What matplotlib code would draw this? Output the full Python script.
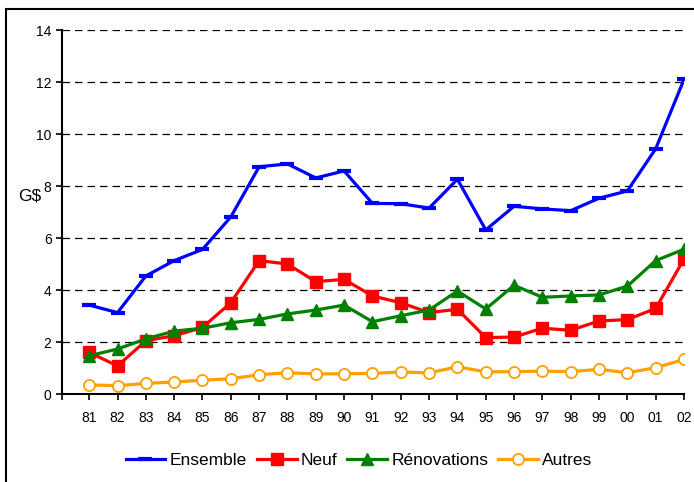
import matplotlib.pyplot as plt
from matplotlib.patches import Rectangle

plt.rcParams['font.family'] = ['Liberation Sans', 'DejaVu Sans']

years = ['81', '82', '83', '84', '85', '86', '87', '88', '89', '90', '91',
         '92', '93', '94', '95', '96', '97', '98', '99', '00', '01', '02']

ensemble = [3.42, 3.13, 4.54, 5.13, 5.56, 6.81, 8.74, 8.85, 8.31, 8.58, 7.33,
            7.32, 7.15, 8.26, 6.31, 7.22, 7.12, 7.05, 7.53, 7.81, 9.43, 12.1]
neuf = [1.6, 1.08, 2.05, 2.24, 2.56, 3.51, 5.13, 5.0, 4.32, 4.41, 3.77,
        3.51, 3.13, 3.26, 2.17, 2.19, 2.53, 2.45, 2.81, 2.86, 3.29, 5.19]
renovations = [1.47, 1.73, 2.12, 2.42, 2.53, 2.74, 2.87, 3.08, 3.23, 3.42, 2.78,
               3.01, 3.23, 3.96, 3.27, 4.18, 3.72, 3.77, 3.81, 4.15, 5.13, 5.57]
autres = [0.35, 0.32, 0.41, 0.46, 0.53, 0.59, 0.74, 0.82, 0.77, 0.78, 0.79,
          0.85, 0.81, 1.05, 0.85, 0.86, 0.88, 0.86, 0.95, 0.82, 1.01, 1.33]

x = list(range(len(years)))

fig = plt.figure(figsize=(6.94, 4.82), dpi=100)
ax = fig.add_axes([62/694, 1 - 394/482, 622/694, 364/482])

ax.plot(x, ensemble, color='#0000FF', lw=2.3, marker='_', ms=10, mew=3,
        label='Ensemble', zorder=3)
ax.plot(x, neuf, color='#FF0000', lw=2.3, marker='s', ms=8.5,
        label='Neuf', zorder=4)
ax.plot(x, renovations, color='#008000', lw=2.3, marker='^', ms=9,
        label='Rénovations', zorder=5)
ax.plot(x, autres, color='#FFA000', lw=2.3, marker='o', ms=8,
        mfc='white', mew=1.3, label='Autres', zorder=3)

ax.set_ylim(0, 14)
ax.set_yticks(range(0, 15, 2))
ax.set_xlim(-0.96, 20.05)
ax.set_xticks(x)
ax.set_xticklabels(years)
ax.set_xticks([-0.96], minor=True)
ax.tick_params(axis='both', labelsize=10, direction='out', length=4,
               width=1.2, colors='black')
ax.tick_params(axis='x', which='minor', length=4, width=1.2)
ax.tick_params(axis='x', pad=8)

for v in range(2, 15, 2):
    ax.axhline(v, color='black', lw=0.9, ls=(0, (6, 4)), zorder=1)

for s in ['top', 'right']:
    ax.spines[s].set_visible(False)
ax.spines['left'].set_linewidth(1.5)
ax.spines['bottom'].set_linewidth(1.5)

fig.text(18/694, 1 - 196/482, 'G$', fontsize=12.5, va='center', ha='left')

fig.legend(loc='center', bbox_to_anchor=(359/694, 1 - 460/482), ncol=4,
           frameon=False, fontsize=12.5, handlelength=2.3, handletextpad=0.25,
           columnspacing=0.55)

fig.patches.append(Rectangle((6/694, -0.1), 1.2, 1 - 9/482 + 0.1,
                             transform=fig.transFigure, fill=False,
                             edgecolor='black', lw=1.5))

fig.savefig('out.png', dpi=100)
